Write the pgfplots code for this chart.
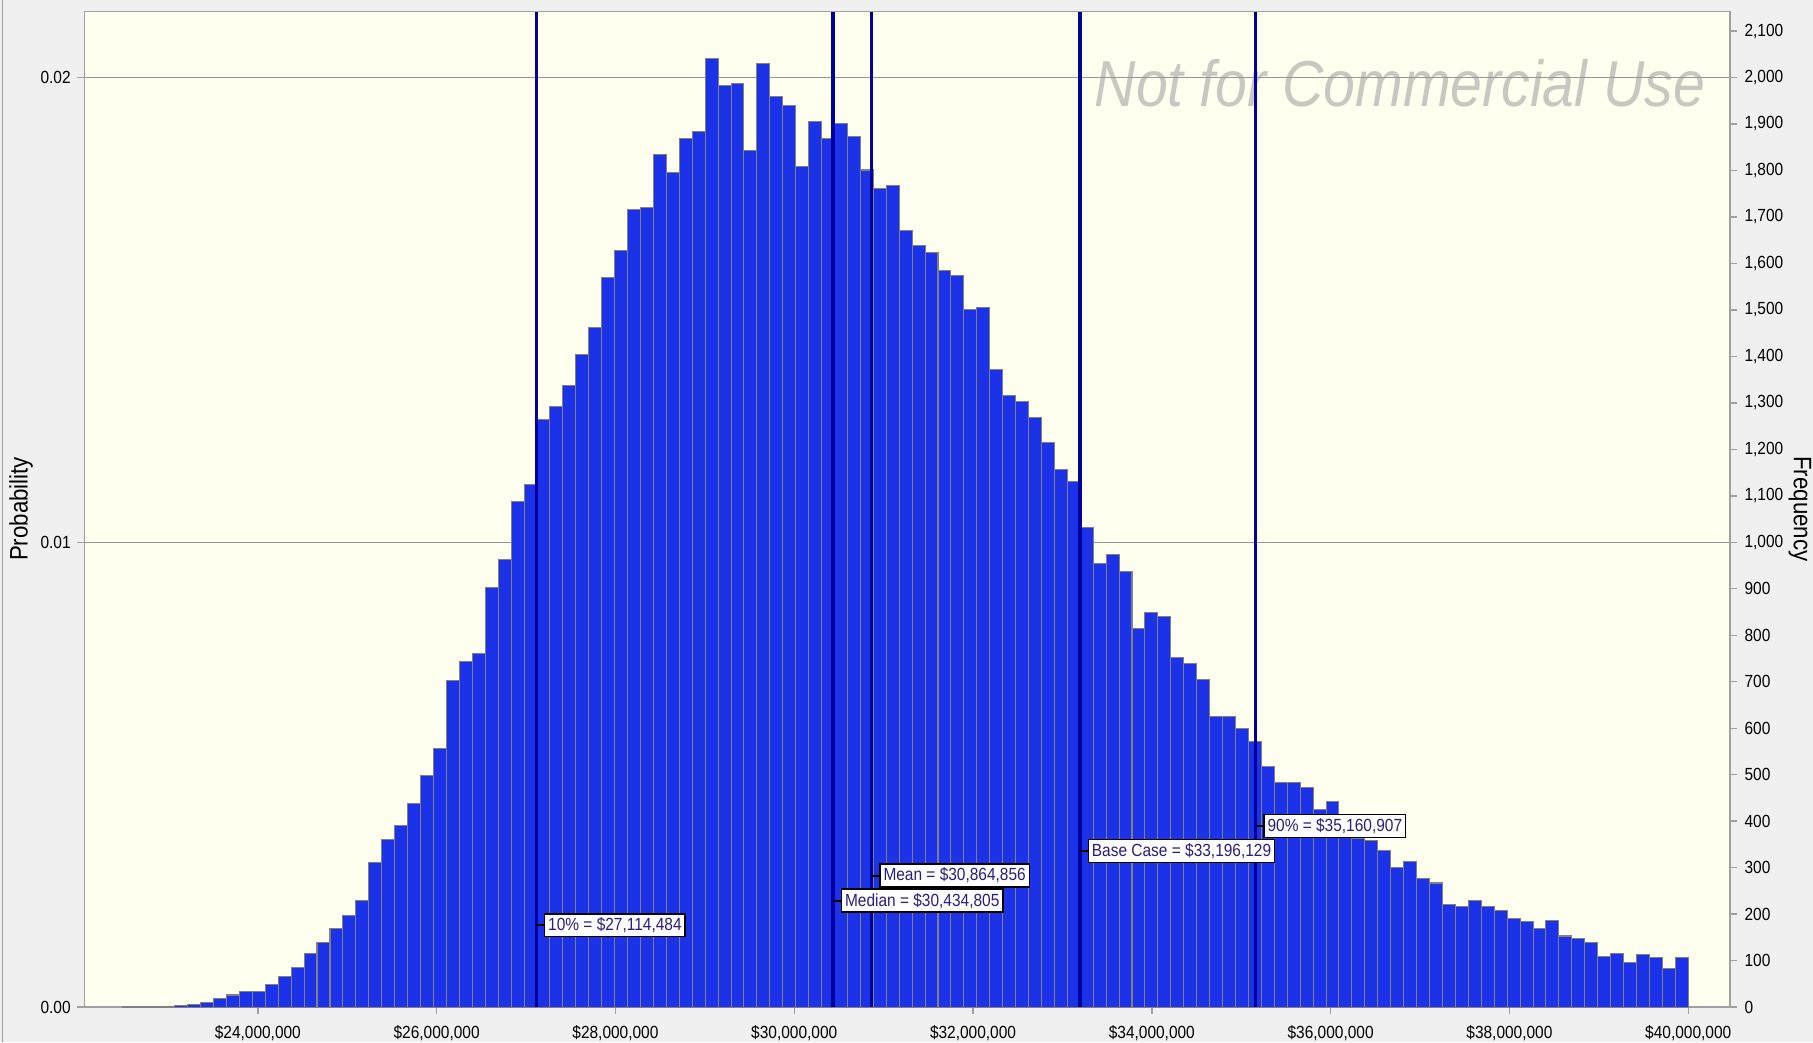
\documentclass[border=0pt]{standalone}
\usepackage{fontspec}
\setmainfont{Liberation Sans}[FakeStretch=0.88]
\usepackage{pgfplots}
\usepackage{pgfplotstable}
\pgfplotsset{compat=1.18}
\definecolor{outerbg}{RGB}{240,240,240}
\definecolor{plotbg}{RGB}{255,255,240}
\definecolor{barblue}{RGB}{27,50,232}
\definecolor{baredge}{RGB}{128,128,128}
\definecolor{markline}{RGB}{0,0,160}
\definecolor{labtext}{RGB}{40,30,130}
\definecolor{framegray}{RGB}{160,160,160}
\definecolor{gridgray}{RGB}{150,150,150}
\definecolor{wmgray}{RGB}{200,200,192}

% bin left edge (millions of $), frequency (of 100,000 trials); last row closes the final interval
\pgfplotstableread{
x y
22.492 1
22.637 1
22.781 2
22.926 2
23.071 3
23.215 6
23.360 10
23.505 19
23.650 26
23.794 33
23.939 33
24.084 49
24.228 66
24.373 86
24.518 116
24.662 139
24.807 169
24.952 198
25.096 230
25.241 311
25.386 361
25.531 391
25.675 438
25.820 498
25.965 556
26.109 703
26.254 743
26.399 760
26.543 903
26.688 963
26.833 1088
26.978 1124
27.122 1265
27.267 1292
27.412 1338
27.556 1405
27.701 1462
27.846 1570
27.990 1627
28.135 1717
28.280 1721
28.424 1835
28.569 1795
28.714 1869
28.859 1883
29.003 2040
29.148 1983
29.293 1987
29.437 1842
29.582 2030
29.727 1959
29.871 1939
30.016 1808
30.161 1906
30.305 1868
30.450 1902
30.595 1873
30.740 1801
30.884 1761
31.029 1768
31.174 1670
31.318 1639
31.463 1624
31.608 1584
31.752 1574
31.897 1500
32.042 1506
32.186 1371
32.331 1315
32.476 1302
32.621 1268
32.765 1214
32.910 1156
33.055 1130
33.199 1032
33.344 954
33.489 974
33.633 938
33.778 814
33.923 849
34.068 840
34.212 752
34.357 739
34.502 705
34.646 625
34.791 625
34.936 599
35.080 572
35.225 517
35.370 484
35.514 484
35.659 473
35.804 425
35.949 443
36.093 395
36.238 363
36.383 359
36.527 337
36.672 300
36.817 313
36.961 276
37.106 267
37.251 220
37.395 216
37.540 230
37.685 216
37.830 207
37.974 191
38.119 184
38.264 170
38.408 187
38.553 153
38.698 147
38.842 139
38.987 109
39.132 116
39.277 95
39.421 113
39.566 106
39.711 83
39.855 106
40.000 106
}\histdata

\tikzset{labbox/.style={anchor=west, draw=black, line width=0.4pt, fill=white,
  text=labtext, font=\fontsize{5}{6}\selectfont, inner xsep=1pt, inner ysep=1.1pt}}

\begin{document}
\begin{tikzpicture}
\fill[outerbg] (0,0) rectangle (18.13,10.42);
\draw[framegray, line width=0.4pt] (0.027,0) -- (0.027,10.42);
\fill[plotbg] (0.844,0.349) rectangle (17.298,10.304);
\node[anchor=base, font=\fontsize{18.5}{20}\selectfont\itshape, text=wmgray] at (14.00,9.35) {Not for Commercial Use};
\node[rotate=90, font=\fontsize{7.2}{8}\selectfont] at (0.21,5.33) {Probability};
\node[rotate=-90, font=\fontsize{7.2}{8}\selectfont] at (18.00,5.33) {Frequency};

\begin{axis}[
  at={(0.844cm,0.349cm)}, anchor=south west,
  width=16.454cm, height=9.955cm, scale only axis,
  xmin=22.06, xmax=40.465, ymin=0, ymax=2141.8,
  clip=false,
  axis line style={framegray, line width=0.4pt},
  xtick={24,26,28,30,32,34,36,38,40},
  xticklabels={{\$24,000,000},{\$26,000,000},{\$28,000,000},{\$30,000,000},{\$32,000,000},{\$34,000,000},{\$36,000,000},{\$38,000,000},{\$40,000,000}},
  ytick={0,1000,2000}, yticklabels={0.00,0.01,0.02},
  xtick pos=bottom, ytick pos=left,
  tick align=outside, major tick length=2pt,
  tick style={framegray, line width=0.4pt},
  ymajorgrids, grid style={gridgray, line width=0.4pt},
  xticklabel style={font=\fontsize{5}{6}\selectfont, anchor=north, inner sep=0pt, yshift=-2.9pt},
  yticklabel style={font=\fontsize{5}{6}\selectfont, anchor=east, inner sep=0pt, xshift=-1.7pt},
]
\addplot[ybar interval, fill=barblue, draw=baredge, line width=0.3pt] table[x=x, y=y] {\histdata};
\addplot[markline, line width=1pt, mark=none] coordinates {(27.114484,0) (27.114484,2141.8)};
\addplot[markline, line width=1pt, mark=none] coordinates {(30.434805,0) (30.434805,2141.8)};
\addplot[markline, line width=1pt, mark=none] coordinates {(30.864856,0) (30.864856,2141.8)};
\addplot[markline, line width=1pt, mark=none] coordinates {(33.196129,0) (33.196129,2141.8)};
\addplot[markline, line width=1pt, mark=none] coordinates {(35.160907,0) (35.160907,2141.8)};
\draw[black, line width=0.6pt] (axis cs:27.114484,176) -- ++(2.2pt,0pt) node[labbox] {10\% = \$27,114,484};
\draw[black, line width=0.6pt] (axis cs:30.434805,229) -- ++(2.2pt,0pt) node[labbox] {Median = \$30,434,805};
\draw[black, line width=0.6pt] (axis cs:30.864856,283) -- ++(2.2pt,0pt) node[labbox] {Mean = \$30,864,856};
\draw[black, line width=0.6pt] (axis cs:33.196129,336) -- ++(2.2pt,0pt) node[labbox] {Base Case = \$33,196,129};
\draw[black, line width=0.6pt] (axis cs:35.160907,390) -- ++(2.2pt,0pt) node[labbox] {90\% = \$35,160,907};
\end{axis}

\begin{axis}[
  at={(0.844cm,0.349cm)}, anchor=south west,
  width=16.454cm, height=9.955cm, scale only axis,
  xmin=22.06, xmax=40.465, ymin=0, ymax=2141.8,
  axis x line=none, axis y line*=right,
  axis line style={framegray, line width=0.4pt},
  ytick={0,100,...,2100},
  tick align=outside, major tick length=2pt,
  tick style={framegray, line width=0.4pt},
  /pgf/number format/1000 sep={,},
  /pgf/number format/assume math mode=true,
  yticklabel style={font=\fontsize{5}{6}\selectfont, anchor=west, inner sep=0pt, xshift=2pt},
]
\addplot[draw=none, mark=none] coordinates {(30,0) (30,10)};
\end{axis}
\pgfresetboundingbox
\path[use as bounding box] (0,0) rectangle (18.13,10.42);
\end{tikzpicture}
\end{document}
